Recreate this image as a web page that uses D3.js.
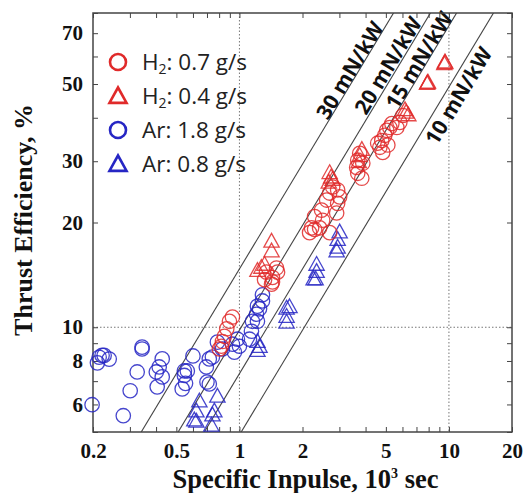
<!DOCTYPE html>
<html><head><meta charset="utf-8">
<script src="https://cdn.jsdelivr.net/npm/d3@7"></script>
<style>body{margin:0;background:#fff}svg{display:block}</style>
</head><body><svg id="c" width="524" height="493"></svg>
<script>
// ---------- data ----------
const xTickLabels = [0.2, 0.5, 1, 2, 5, 10, 20];
const yTickLabels = [6, 8, 10, 20, 30, 50, 70];
const xMinorTicks = [0.2,0.3,0.4,0.5,0.6,0.7,0.8,0.9,1,2,3,4,5,6,7,8,9,10,20];
const yMinorTicks = [5,6,7,8,9,10,20,30,40,50,60,70,80];
const thrustPowerLevels = [30, 20, 15, 10];            // mN/kW
const thrustPowerLabels = ["30 mN/kW", "20 mN/kW", "15 mN/kW", "10 mN/kW"];
const gridX = [1, 10];
const gridY = [10];

// [Isp (10^3 s), efficiency %]
const h2High = [ // H2 0.7 g/s, circles
  [0.896,10.4],[0.926,10.7],[0.87,9.9],[0.848,9.42],[0.82,8.82],[0.802,8.66],[0.83,9.1],
  [1.346,14.4],[1.438,13.9],[1.503,14.8],[1.438,13.5],[1.423,13.3],[1.52,14.4],[1.318,13.7],
  [2.21,19.3],[2.285,19.1],[2.414,19.3],[2.696,18.7],[2.162,18.7],[2.285,20.8],[2.467,21.7],
  [2.608,23.2],[2.696,24.3],[2.786,25.3],[2.943,24.8],[3.008,23.7],[2.943,22.7],[2.911,21.3],[2.495,20.3],
  [3.628,28.8],[3.67,27.7],[3.67,30.2],[3.75,31.6],[3.837,26.8],[3.88,29.6],
  [4.68,32.9],[4.78,34.4],[4.94,35.6],[5.05,36.8],[5.22,37.5],[5.34,38.5],[5.11,33.4],[4.83,31.8],
  [5.83,38.8],[5.64,37.5],[6.03,40.6],[4.57,33.8]
];
const h2Low = [ // H2 0.4 g/s, triangles
  [1.423,17.6],[1.423,16.5],[1.318,15.1],[1.273,14.8],[1.219,14.5],
  [2.696,27.7],[2.74,26.9],[2.67,26.0],[2.786,26.5],
  [3.84,32.3],[3.75,31.0],[3.71,29.8],
  [6.17,42.0],[6.4,40.6],[6.25,41.3],
  [7.94,50.4],[7.86,50.0],[7.9,50.2],
  [9.57,57.6],[9.5,57.0],[9.6,57.3]
];
const arHigh = [ // Ar 1.8 g/s, circles
  [0.198,5.99],[0.214,8.2],[0.221,8.3],[0.226,8.3],[0.239,8.1],[0.21,7.9],
  [0.279,5.57],[0.301,6.57],[0.325,7.44],[0.343,8.66],[0.343,8.77],
  [0.401,7.44],[0.414,7.69],[0.428,8.11],[0.428,7.2],[0.405,6.74],
  [0.533,6.65],[0.546,7.49],[0.546,7.27],[0.564,7.49],[0.553,6.9],[0.6,8.27],
  [0.695,7.69],[0.718,6.87],[0.743,8.21],[0.7,6.96],[0.718,8.11],
  [0.785,9.06],[0.829,8.66],[0.926,8.94],[0.946,8.48],[0.978,9.24],[1.0,8.82],
  [1.141,9.74],[1.117,9.24],[1.219,10.4],[1.247,11.3],[1.288,11.9],[1.288,12.4],
  [1.219,11.5],[1.206,10.9],[1.154,10.4]
];
const arLow = [ // Ar 0.8 g/s, triangles
  [0.644,6.11],[0.623,5.72],[0.623,5.35],[0.785,6.31],[0.759,5.72],[0.734,5.21],[0.609,5.39],[0.743,5.57],
  [1.219,9.06],[1.219,8.54],[1.247,8.77],
  [1.679,11.3],[1.679,10.7],[1.679,10.3],[1.734,11.4],
  [2.335,15.1],[2.335,14.4],[2.31,13.7],[2.26,13.7],
  [3.008,18.7],[2.943,17.8],[2.943,16.9],[2.911,16.5]
];
const legendLabels = [["H","2",": 0.7 g/s"],["H","2",": 0.4 g/s"],["Ar: 1.8 g/s","",""],["Ar: 0.8 g/s","",""]];

// ---------- layout ----------
const RED = "#e02a2a", BLUE = "#2626c4";
const L = 93, R = 512, T = 13, B = 432;
const svg = d3.select("#c");
const x = d3.scaleLog().domain([0.2, 20]).range([L, R]);
const y = d3.scaleLog().domain([5, 80]).range([B, T]);

svg.append("defs").append("clipPath").attr("id","clip")
  .append("rect").attr("x",L).attr("y",T).attr("width",R-L).attr("height",B-T);

// grid
const grid = svg.append("g").attr("stroke","#777").attr("stroke-width",1).attr("stroke-dasharray","1.5,2");
grid.selectAll(".gx").data(gridX).join("line").attr("x1",d=>x(d)).attr("x2",d=>x(d)).attr("y1",T).attr("y2",B);
grid.selectAll(".gy").data(gridY).join("line").attr("y1",d=>y(d)).attr("y2",d=>y(d)).attr("x1",L).attr("x2",R);

// constant thrust/power lines: eta(%) = k[mN/kW]*1e-6 * g0 * Isp[s] / 2 * 100
const g0 = 9.80665;
const eff = (k, isp) => k * 1e-6 * g0 * isp * 1000 / 2 * 100;
const lg = svg.append("g").attr("clip-path","url(#clip)");
lg.selectAll("line").data(thrustPowerLevels).join("line")
  .attr("x1", d => x(0.05)).attr("y1", d => y(eff(d, 0.05)))
  .attr("x2", d => x(40)).attr("y2", d => y(eff(d, 40)))
  .attr("stroke","#444").attr("stroke-width",1.1);

// labels along lines
const angle = Math.atan2(y(10)-y(1), x(10)-x(1)) * 180 / Math.PI;
const labelAnchorEff = [53.3, 54.8, 57, 48.3];
const labelOffset = [7.7, 9.1, 7.7, -12.9];
svg.append("g").selectAll("text").data(thrustPowerLevels).join("text")
  .attr("transform", (d,i) => {
    const e = labelAnchorEff[i], isp = e / eff(d, 1);
    return `translate(${x(isp)},${y(e)}) rotate(${angle})`;
  })
  .attr("y", (d,i) => -labelOffset[i]).attr("dy","0.35em")
  .attr("text-anchor","middle")
  .attr("font-family","'Open Sans', sans-serif").attr("font-weight","bold").attr("font-size",21)
  .attr("fill","#111")
  .text((d,i) => thrustPowerLabels[i]);

// axes (ticks inward)
const fontSerif = "'Liberation Serif','Times New Roman',serif";
function styleAxis(g){ g.select(".domain").remove(); g.selectAll("line").attr("stroke","#444").attr("stroke-width",1); }
const fmt = d => xTickLabels.includes(d) ? String(d) : "";
const fmtY = d => yTickLabels.includes(d) ? String(d) : "";
svg.append("g").attr("transform",`translate(0,${B})`)
  .call(d3.axisBottom(x).tickValues(xMinorTicks).tickFormat(fmt).tickSize(-5).tickPadding(11))
  .call(styleAxis)
  .call(g => g.selectAll("text").attr("font-family",fontSerif).attr("font-weight","bold").attr("font-size",21).attr("fill","#111"));
svg.append("g").attr("transform",`translate(0,${T})`)
  .call(d3.axisTop(x).tickValues(xMinorTicks).tickFormat("").tickSize(-5))
  .call(styleAxis);
svg.append("g").attr("transform",`translate(${L},0)`)
  .call(d3.axisLeft(y).tickValues(yMinorTicks).tickFormat(fmtY).tickSize(-5).tickPadding(10))
  .call(styleAxis)
  .call(g => g.selectAll("text").attr("font-family",fontSerif).attr("font-weight","bold").attr("font-size",21).attr("fill","#111"));
svg.append("g").attr("transform",`translate(${R},0)`)
  .call(d3.axisRight(y).tickValues(yMinorTicks).tickFormat("").tickSize(-5))
  .call(styleAxis);

// frame
svg.append("rect").attr("x",L).attr("y",T).attr("width",R-L).attr("height",B-T)
  .attr("fill","none").attr("stroke","#444").attr("stroke-width",1.5);

// axis titles
const xt = svg.append("text").attr("x",(L+R)/2+3).attr("y",488).attr("text-anchor","middle")
  .attr("font-family",fontSerif).attr("font-weight","bold").attr("font-size",26.5).attr("fill","#111");
xt.append("tspan").text("Specific Inpulse, 10");
xt.append("tspan").attr("dy",-10).attr("font-size",14).text("3");
xt.append("tspan").attr("dy",10).text(" sec");
svg.append("text").attr("transform","translate(32,220) rotate(-90)").attr("text-anchor","middle")
  .attr("font-family",fontSerif).attr("font-weight","bold").attr("font-size",26).attr("fill","#111")
  .text("Thrust Efficiency, %");

// markers
const tri = s => `M0,${-s} L${s*0.9},${s*0.62} L${-s*0.9},${s*0.62} Z`;
function circles(data, color){
  svg.append("g").selectAll("circle").data(data).join("circle")
    .attr("cx",d=>x(d[0])).attr("cy",d=>y(d[1])).attr("r",7.2)
    .attr("fill","none").attr("stroke",color).attr("stroke-width",1.3).attr("stroke-opacity",0.85);
}
function triangles(data, color){
  svg.append("g").selectAll("path").data(data).join("path")
    .attr("transform",d=>`translate(${x(d[0])},${y(d[1])})`).attr("d",tri(8.5))
    .attr("fill","none").attr("stroke",color).attr("stroke-width",1.3).attr("stroke-opacity",0.85);
}
circles(arHigh, BLUE);
triangles(arLow, BLUE);
circles(h2High, RED);
triangles(h2Low, RED);

// legend
const legY = [62, 96, 130, 164];
const legColor = [RED, RED, BLUE, BLUE];
const legShape = ["c","t","c","t"];
const leg = svg.append("g");
legendLabels.forEach((lab,i) => {
  if (legShape[i]==="c") leg.append("circle").attr("cx",118).attr("cy",legY[i]).attr("r",8)
    .attr("fill","none").attr("stroke",legColor[i]).attr("stroke-width",2.6);
  else leg.append("path").attr("transform",`translate(118,${legY[i]+1})`).attr("d",tri(9.5))
    .attr("fill","none").attr("stroke",legColor[i]).attr("stroke-width",2.6);
  const t = leg.append("text").attr("x",142).attr("y",legY[i]).attr("dy","0.36em")
    .attr("font-family","'Open Sans',sans-serif").attr("font-size",22.5).attr("fill","#222");
  t.append("tspan").text(lab[0]);
  if (lab[1]) {
    t.append("tspan").attr("dy",4).attr("font-size",14).text(lab[1]);
    t.append("tspan").attr("dy",-4).text(lab[2]);
  }
});
</script></body></html>
